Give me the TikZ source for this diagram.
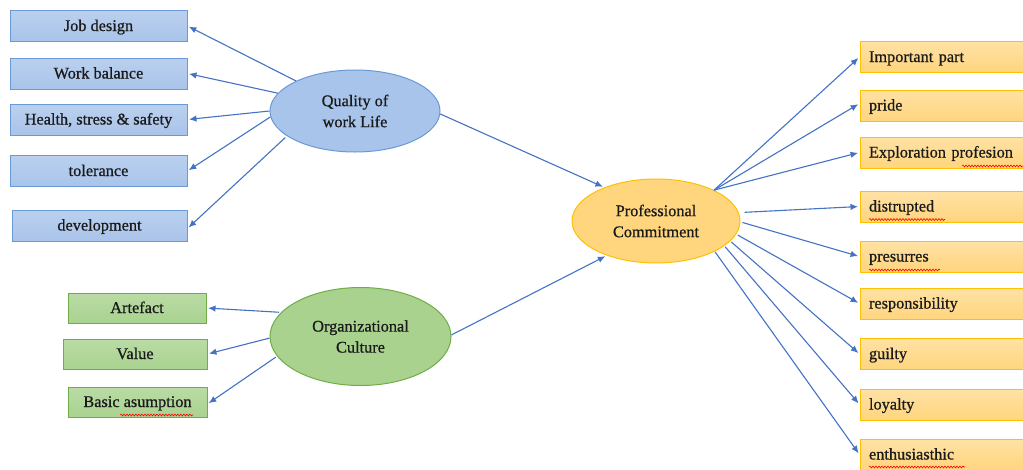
\documentclass[tikz,border=0pt]{standalone}
\usepackage{fontspec}
\setmainfont{Liberation Serif}[FakeBold=0.7]
\usetikzlibrary{arrows.meta,shapes.geometric,decorations.pathmorphing}
\definecolor{arr}{HTML}{4472C4}
\definecolor{bfill}{HTML}{A9C4EA}
\definecolor{bline}{HTML}{6A9AD6}
\definecolor{gfill}{HTML}{A9D28F}
\definecolor{gline}{HTML}{70AD47}
\definecolor{ofill}{HTML}{FFD57E}
\definecolor{oline}{HTML}{FFC000}
\definecolor{txt}{HTML}{1A1A1A}
\tikzset{
  every node/.style={font=\fontsize{16.3}{21}\selectfont, text=txt},
  boxtext/.style={text height=12pt, text depth=2pt},
  bbox/.style={boxtext, draw=bline, line width=1pt, top color=bfill!80!white, bottom color=bfill, minimum width=177pt, minimum height=31pt, inner sep=0pt},
  gbox/.style={boxtext, draw=gline, line width=1pt, top color=gfill!80!white, bottom color=gfill, minimum height=30pt, inner sep=0pt},
  obox/.style={boxtext, draw=oline, line width=1pt, top color=ofill!70!white, bottom color=ofill, minimum width=180pt, minimum height=31pt, text width=162pt, align=left, inner xsep=9pt, inner ysep=0pt},
  bell/.style={ellipse, draw=bline, line width=1pt, fill=bfill, minimum width=170pt, minimum height=82pt, align=center, inner sep=0pt},
  gell/.style={ellipse, draw=gline, line width=1pt, fill=gfill, minimum width=181pt, minimum height=98pt, align=center, inner sep=0pt},
  oell/.style={ellipse, draw=oline, line width=1pt, fill=ofill, minimum width=168pt, minimum height=84pt, align=center, inner sep=0pt},
  link/.style={draw=arr, line width=1.1pt, -{Latex[length=7.5pt,width=6.5pt]}, shorten >=1.5pt},
  squig/.style={draw=red, line width=0.6pt, decorate, decoration={snake, amplitude=0.9pt, segment length=3pt}}
}
\begin{document}
\begin{tikzpicture}[x=1pt,y=-1pt]
\useasboundingbox (0,0) rectangle (1023,469);
\clip (0,0) rectangle (1023,469);
\fill[white] (0,0) rectangle (1023,469);

% left blue boxes
\node[bbox] (jd) at (98.5,26) {Job design};
\node[bbox] (wb) at (98.5,73.5) {Work balance};
\node[bbox] (hs) at (98.5,119.5) {Health, stress \& safety};
\node[bbox] (to) at (98.5,171) {tolerance};
\node[bbox, minimum width=175pt] (de) at (99.5,225.5) {development};

% green boxes
\node[gbox, minimum width=138pt] (ar) at (137,308) {Artefact};
\node[gbox, minimum width=144pt] (va) at (135,354) {Value};
\node[gbox, minimum width=139pt] (ba) at (137.5,402) {Basic asumption};

% ellipses
\node[bell] (q) at (355,111) {Quality of\\work Life};
\node[gell] (oc) at (360.5,336.5) {Organizational\\Culture};
\node[oell] (pc) at (656,221) {Professional\\Commitment};

% right orange boxes
\node[obox] (ip) at (950,57) {Important part};
\node[obox] (pr) at (950,105.5) {pride};
\node[obox] (ex) at (950,152.5) {Exploration profesion};
\node[obox] (di) at (950,206.5) {distrupted};
\node[obox] (ps) at (950,256.5) {presurres};
\node[obox] (re) at (950,303.5) {responsibility};
\node[obox] (gu) at (950,354) {guilty};
\node[obox] (lo) at (950,404.5) {loyalty};
\node[obox] (en) at (950,454.5) {enthusiasthic};

% arrows from Quality of work life
\draw[link] (q.153) -- (jd.east);
\draw[link] (q.167) -- (wb.east);
\draw[link] (q.180) -- (hs.east);
\draw[link] (q.184) -- (to.east);
\draw[link] ([xshift=-4pt]q.202) -- ([yshift=-3pt]de.east);

% arrows from Organizational culture
\draw[link] ([xshift=-2pt]oc.163) -- (ar.east);
\draw[link] (oc.181) -- (va.east);
\draw[link] ([xshift=-2pt]oc.194) -- ([yshift=-2pt]ba.east);

% to Professional commitment
\draw[link] (q.-2) -- (pc.147);
\draw[link] (oc.1) -- (pc.215);

% from Professional commitment
\draw[link] (pc.28) -- (ip.west);
\draw[link] (pc.28) -- ([yshift=2pt]pr.west);
\draw[link] (pc.28) -- (ex.west);
\draw[link] ([xshift=6pt]pc.6) -- (di.west);
\draw[link] ([xshift=2pt]pc.-1) -- (ps.west);
\draw[link] ([xshift=2pt]pc.-10) -- (re.west);
\draw[link] ([xshift=2pt]pc.-16) -- (gu.west);
\draw[link] ([xshift=2pt]pc.-21) -- (lo.west);
\draw[link] ([xshift=1pt]pc.-28) -- (en.west);

% spelling marks
\draw[squig] (120,415) -- (193,415);
\draw[squig] (962,166) -- (1023,166);
\draw[squig] (869,219.5) -- (945,219.5);
\draw[squig] (869,270) -- (940,270);
\draw[squig] (869,467) -- (965,467);
\end{tikzpicture}
\end{document}
